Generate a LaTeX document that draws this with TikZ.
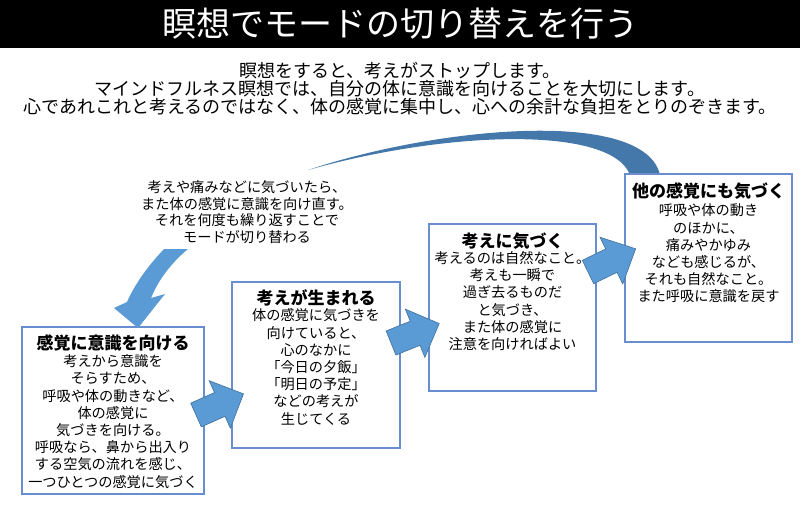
\documentclass[tikz,border=0pt]{standalone}
\usepackage{fontspec}
\setmainfont{Noto Sans CJK JP}
\definecolor{boxblue}{RGB}{105,142,207}
\definecolor{arrowfill}{RGB}{91,155,213}
\definecolor{arrowline}{RGB}{65,113,156}
\definecolor{arcfill}{RGB}{68,120,170}
\begin{document}
\begin{tikzpicture}[x=1pt,y=-1pt,
  stepbox/.style={draw=boxblue, line width=1.2pt, fill=white, inner sep=0pt},
  boxtitle/.style={font=\fontsize{17}{20}\selectfont\bfseries, inner sep=0pt},
  boxbody/.style={font=\fontsize{14.2}{17.2}\selectfont, align=center, inner sep=0pt},
  blockarrow/.style={fill=arrowfill, draw=arrowline, line width=0.6pt, line join=miter}]
\useasboundingbox (0,0) rectangle (800,507);
\fill[white] (0,0) rectangle (800,507);
\fill[black] (0,0) rectangle (800,48);
\node[text=white, font=\fontsize{34}{40}\selectfont, inner sep=0pt] (title) at (400,24) {瞑想でモードの切り替えを行う};
\node[font=\fontsize{18}{18}\selectfont, align=center, inner sep=0pt] (intro) at (400,89)
  {瞑想をすると、考えがストップします。\\
   マインドフルネス瞑想では、自分の体に意識を向けることを大切にします。\\
   心であれこれと考えるのではなく、体の感覚に集中し、心への余計な負担をとりのぞきます。};

% top arc
\fill[arcfill] (308,170) .. controls (440,126) and (645,108) .. (660,175)
  -- (630,175) .. controls (612,126) and (450,130) .. (308,170) -- cycle;

% boxes
\node[stepbox, minimum width=182pt, minimum height=167pt] (b1) at (113,410.5) {};
\node[stepbox, minimum width=168pt, minimum height=166pt] (b2) at (316,365) {};
\node[stepbox, minimum width=167pt, minimum height=167pt] (b3) at (512.5,307.5) {};
\node[stepbox, minimum width=167pt, minimum height=168pt] (b4) at (708.5,258) {};

\node[boxtitle] (t1) at (113,343) {感覚に意識を向ける};
\node[boxbody] (d1) at (113,421.5) {考えから意識を\\そらすため、\\呼吸や体の動きなど、\\体の感覚に\\気づきを向ける。\\呼吸なら、鼻から出入り\\する空気の流れを感じ、\\一つひとつの感覚に気づく};
\node[boxtitle] (t2) at (316,298) {考えが生まれる};
\node[boxbody] (d2) at (316,367) {体の感覚に気づきを\\向けていると、\\心のなかに\\「今日の夕飯」\\「明日の予定」\\などの考えが\\生じてくる};
\node[boxtitle] (t3) at (512.5,241) {考えに気づく};
\node[boxbody] (d3) at (512.5,301) {考えるのは自然なこと。\\考えも一瞬で\\過ぎ去るものだ\\と気づき、\\また体の感覚に\\注意を向ければよい};
\node[boxtitle] (t4) at (708.5,191) {他の感覚にも気づく};
\node[boxbody] (d4) at (708.5,253.5) {呼吸や体の動き\\のほかに、\\痛みやかゆみ\\なども感じるが、\\それも自然なこと。\\また呼吸に意識を戻す};

% curved text
\node[font=\fontsize{14.2}{16.5}\selectfont, align=center, inner sep=0pt] (loop) at (247,212)
  {考えや痛みなどに気づいたら、\\また体の感覚に意識を向け直す。\\それを何度も繰り返すことで\\モードが切り替わる};

% lower-left curved arrow head
\fill[arrowfill] (164,249) .. controls (146,268) and (134,286) .. (127,302)
  -- (114,308) -- (138,328) -- (165,294) -- (151,298)
  .. controls (158,281) and (170,264) .. (188,249) -- cycle;

% block arrows
\coordinate (a1) at (196,415);
\coordinate (a2) at (391,343);
\coordinate (a3) at (588,272);
\draw[blockarrow, shift={(a1)}, rotate=24]
  (0,-13) -- (26,-13) -- (26,-26) -- (52,0) -- (26,26) -- (26,13) -- (0,13) -- cycle;
\draw[blockarrow, shift={(a2)}, rotate=22]
  (0,-13) -- (26,-13) -- (26,-26) -- (52,0) -- (26,26) -- (26,13) -- (0,13) -- cycle;
\draw[blockarrow, shift={(a3)}, rotate=26]
  (0,-13) -- (26,-13) -- (26,-26) -- (53,0) -- (26,26) -- (26,13) -- (0,13) -- cycle;
\end{tikzpicture}
\end{document}
